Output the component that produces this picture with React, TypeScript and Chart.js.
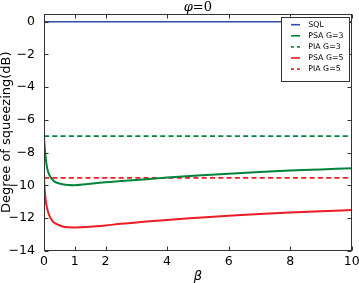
import React, { useEffect, useRef } from 'react';
import { Chart, registerables } from 'chart.js';
Chart.register(...registerables);

const betaValues = [0, 0.02, 0.05, 0.08, 0.13, 0.2, 0.3, 0.4, 0.6, 0.8, 1, 1.5, 2, 2.5, 3, 4, 5, 6, 7, 8, 9, 10];
const psaG3 = [-6.99, -7.6, -8.2, -8.7, -9.15, -9.45, -9.7, -9.82, -9.92, -9.97, -9.98, -9.9, -9.8, -9.73, -9.66, -9.52, -9.39, -9.28, -9.18, -9.09, -9.02, -8.95];
const psaG5 = [-9.54, -10.2, -10.8, -11.2, -11.6, -11.95, -12.22, -12.35, -12.5, -12.55, -12.56, -12.52, -12.44, -12.34, -12.26, -12.1, -11.97, -11.85, -11.74, -11.65, -11.57, -11.5];
const flatBeta = [0, 10];
const sqlLevel = [0, 0];
const piaG3 = [-6.99, -6.99];
const piaG5 = [-9.54, -9.54];
const xTicks = [0, 1, 2, 4, 6, 8, 10];
const yTicks = [0, -2, -4, -6, -8, -10, -12, -14];
const seriesLabels = ['SQL', 'PSA G=3', 'PIA G=3', 'PSA G=5', 'PIA G=5'];

const BLUE = '#2f4fa6';
const GREEN = '#00843d';
const RED = '#ec1c24';
const DASH = [5, 3.3];

const toPoints = (xs: number[], ys: number[]) => xs.map((x, i) => ({ x, y: ys[i] }));

const frameTicks = {
  id: 'frameTicks',
  afterDatasetsDraw(chart: any) {
    const { ctx, chartArea: a, scales } = chart;
    ctx.save();
    ctx.strokeStyle = '#333';
    ctx.lineWidth = 1;
    const L = Math.round(a.left) + 0.5, R = Math.round(a.right) - 0.5;
    const T = Math.round(a.top) + 0.5, B = Math.round(a.bottom) - 0.5;
    ctx.strokeRect(L, T, R - L, B - T);
    const len = 4;
    ctx.beginPath();
    xTicks.forEach((v) => {
      const px = Math.round(scales.x.getPixelForValue(v)) + 0.5;
      ctx.moveTo(px, B); ctx.lineTo(px, B - len);
      ctx.moveTo(px, T); ctx.lineTo(px, T + len);
    });
    yTicks.forEach((v) => {
      const py = Math.round(scales.y.getPixelForValue(v)) + 0.5;
      ctx.moveTo(L, py); ctx.lineTo(L + len, py);
      ctx.moveTo(R, py); ctx.lineTo(R - len, py);
    });
    ctx.stroke();
    ctx.restore();
  },
};

const titlePlugin = {
  id: 'phiTitle',
  afterDraw(chart: any) {
    const { ctx, chartArea: a } = chart;
    ctx.save();
    const cx = (a.left + a.right) / 2;
    ctx.textBaseline = 'alphabetic';
    ctx.fillStyle = '#000';
    const p = 'φ';
    ctx.font = 'italic 13px "DejaVu Serif"';
    const w1 = ctx.measureText(p).width;
    ctx.font = '13px "DejaVu Serif"';
    const rest = '=0';
    const w2 = ctx.measureText(rest).width;
    const x0 = cx - (w1 + w2) / 2;
    const y = a.top - 3;
    ctx.font = 'italic 13px "DejaVu Serif"';
    ctx.textAlign = 'left';
    ctx.fillText(p, x0, y);
    ctx.font = '13px "DejaVu Serif"';
    ctx.fillText(rest, x0 + w1, y);
    ctx.restore();
  },
};

const legendPlugin = {
  id: 'boxLegend',
  afterDraw(chart: any) {
    const { ctx, chartArea: a } = chart;
    const w = 68, h = 64;
    const right = a.right - 2.7;
    const left = right - w;
    const top = a.top + 3.2;
    ctx.save();
    ctx.fillStyle = '#fff';
    ctx.fillRect(left, top, w, h);
    ctx.strokeStyle = '#333';
    ctx.lineWidth = 1;
    ctx.strokeRect(Math.round(left) + 0.5, Math.round(top) + 0.5, w, h);
    ctx.font = '7.8px "DejaVu Sans"';
    ctx.textBaseline = 'middle';
    ctx.textAlign = 'left';
    chart.data.datasets.forEach((ds: any, i: number) => {
      const y = top + 8 + i * 11.1;
      ctx.strokeStyle = ds.borderColor;
      ctx.lineWidth = 1.6;
      ctx.setLineDash(ds.borderDash && ds.borderDash.length ? [3, 3] : []);
      ctx.beginPath();
      ctx.moveTo(left + 10, y);
      ctx.lineTo(left + 19, y);
      ctx.stroke();
      ctx.setLineDash([]);
      ctx.fillStyle = '#000';
      ctx.fillText(ds.label, left + 27.3, y);
    });
    ctx.restore();
  },
};

export default function App() {
  const ref = useRef<HTMLCanvasElement>(null);
  useEffect(() => {
    document.body.style.margin = '0';
    const tickFont = { family: 'DejaVu Sans', size: 12.5 };
    const chart = new Chart(ref.current as HTMLCanvasElement, {
      type: 'line',
      data: {
        datasets: [
          { label: seriesLabels[0], data: toPoints(flatBeta, sqlLevel), borderColor: BLUE, borderWidth: 1.6, pointRadius: 0 },
          { label: seriesLabels[1], data: toPoints(betaValues, psaG3), borderColor: GREEN, borderWidth: 2, pointRadius: 0, cubicInterpolationMode: 'monotone' },
          { label: seriesLabels[2], data: toPoints(flatBeta, piaG3), borderColor: GREEN, borderWidth: 1.8, borderDash: DASH, pointRadius: 0 },
          { label: seriesLabels[3], data: toPoints(betaValues, psaG5), borderColor: RED, borderWidth: 2, pointRadius: 0, cubicInterpolationMode: 'monotone' },
          { label: seriesLabels[4], data: toPoints(flatBeta, piaG5), borderColor: RED, borderWidth: 1.8, borderDash: DASH, pointRadius: 0 },
        ] as any,
      },
      options: {
        responsive: false,
        animation: false,
        layout: { padding: { left: 0, right: 7.3, top: 13.5, bottom: 0 } },
        plugins: { legend: { display: false }, title: { display: false }, tooltip: { enabled: false } },
        scales: {
          x: {
            type: 'linear',
            min: 0,
            max: 10,
            afterBuildTicks: (s: any) => { s.ticks = xTicks.map((v) => ({ value: v })); },
            afterFit: (s: any) => { s.height = 32; s.paddingRight = 0; s.paddingLeft = 0; },
            grid: { display: false, drawTicks: false },
            border: { display: false },
            ticks: { font: tickFont, color: '#000', padding: 3, maxRotation: 0, autoSkip: false },
            title: { display: true, text: 'β', color: '#000', font: { family: 'DejaVu Sans', size: 13, style: 'italic', lineHeight: 1 }, padding: { top: 0, bottom: 0 } },
          },
          y: {
            type: 'linear',
            min: -14,
            max: 0.5,
            afterBuildTicks: (s: any) => { s.ticks = yTicks.map((v) => ({ value: v })); },
            afterFit: (s: any) => { s.width = 44; s.paddingTop = 0; s.paddingBottom = 0; },
            grid: { display: false, drawTicks: false },
            border: { display: false },
            ticks: {
              font: tickFont,
              color: '#000',
              padding: 9,
              autoSkip: false,
              callback: (v: any) => (Number(v) < 0 ? '\u2212' + Math.abs(Number(v)) : String(v)),
            },
            title: { display: true, text: 'Degree of squeezing(dB)', color: '#000', font: { family: 'DejaVu Sans', size: 13, lineHeight: 1 }, padding: { top: 0, bottom: 0 } },
          },
        },
      },
      plugins: [frameTicks, titlePlugin, legendPlugin],
    });
    return () => chart.destroy();
  }, []);
  return <canvas ref={ref} width={359} height={283} style={{ display: 'block' }} />;
}
